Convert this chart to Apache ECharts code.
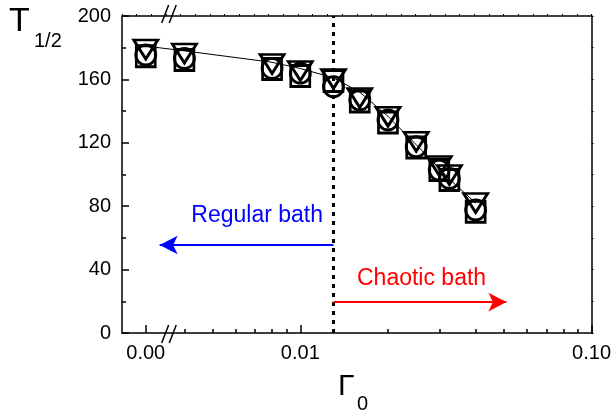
<!DOCTYPE html>
<html><head><meta charset="utf-8">
<script src="https://cdn.jsdelivr.net/npm/echarts@6/dist/echarts.min.js"></script>
<style>html,body{margin:0;padding:0;background:#fff}#c{width:614px;height:414px}</style>
</head><body><div id="c"></div>
<script>
// ---- data (Γ0 values; 0 is drawn on the left side of the axis break) ----
const gammaValues = [0, 0.004, 0.008, 0.010, 0.013, 0.016, 0.020, 0.025, 0.030, 0.0325, 0.040];
const circleT   = [175.4, 173.3, 167.0, 163.9, 155.4, 147.0, 134.4, 117.5, 102.8, 97.5, 77.6];
const squareT   = [174.6, 172.2, 166.6, 162.1, 159.0, 146.1, 132.8, 117.0, 102.8, 96.5, 76.5];
const triangleT = [178.9, 176.3, 169.7, 165.3, 160.3, 148.3, 136.5, 120.7, 105.4, 99.7, 82.0];
const fitT      = [181.0, 178.0, 170.8, 166.9, 161.0, 152.0, 136.7, 118.8, 103.9, 97.1, 82.0];

const xTickGamma  = [0, 0.01, 0.1];
const xTickLabels = ['0.00', '0.01', '0.10'];
const xMinorGamma = [0.004,0.005,0.006,0.007,0.008,0.009,0.02,0.03,0.04,0.05,0.06,0.07,0.08,0.09];
const yMin = 0, yMax = 200, yStep = 40;

const boundaryGamma = 0.013;          // regular / chaotic boundary
const regularArrowT = 55.5;           // height of the blue arrow
const chaoticArrowT = 19.5;           // height of the red arrow
const chaoticArrowEndGamma = 0.051;

// ---- axis mapping: log10 of Γ0, with 0 placed left of the break ----
const X_MIN = -2.6122, X_MAX = -1;
const ZERO_POS = -2.5306;
const BREAK_POS = -2.451;
const REGULAR_ARROW_END = -2.483;
function xPos(g){ return g === 0 ? ZERO_POS : Math.log10(g); }

const FONT = "'Liberation Sans', Arial, Helvetica, sans-serif";
const chart = echarts.init(document.getElementById('c'), null, {renderer:'canvas'});

const tickLine = {color:'#000', width:1.5};
function pts(arr){ return gammaValues.map((g,i)=>[xPos(g), arr[i]]); }
const markerStyle = {color:'transparent', borderColor:'#000', borderWidth:2.8, opacity:1};

const option = {
  animation:false,
  grid:{left:122, right:18, top:16, bottom:81, containLabel:false},
  xAxis:[
    {type:'value', min:X_MIN, max:X_MAX, position:'bottom',
     axisLine:{show:true, onZero:false, lineStyle:{color:'#000', width:1.5}},
     axisTick:{show:true, inside:true, length:8, lineStyle:tickLine, customValues: xTickGamma.map(xPos)},
     axisLabel:{show:true, margin:10, color:'#000', fontSize:20, fontFamily:FONT,
       customValues: xTickGamma.map(xPos),
       formatter:function(v){ for(let i=0;i<xTickGamma.length;i++){ if(Math.abs(xPos(xTickGamma[i])-v)<1e-6) return xTickLabels[i]; } return ''; }},
     splitLine:{show:false}},
    {type:'value', min:X_MIN, max:X_MAX, position:'bottom',
     axisLine:{show:false},
     axisTick:{show:true, inside:true, length:4, lineStyle:tickLine, customValues: xMinorGamma.map(xPos)},
     axisLabel:{show:false}, splitLine:{show:false}},
    {type:'value', min:0, max:32, interval:1, position:'top',
     axisLine:{show:true, onZero:false, lineStyle:{color:'#000', width:1.5}},
     axisTick:{show:true, inside:false, length:2, lineStyle:{color:'#000', width:1}},
     axisLabel:{show:false}, splitLine:{show:false}}
  ],
  yAxis:[
    {type:'value', min:yMin, max:yMax, interval:yStep, position:'left',
     axisLine:{show:true, onZero:false, lineStyle:{color:'#000', width:1.5}},
     axisTick:{show:true, inside:true, length:7, lineStyle:tickLine},
     minorTick:{show:true, splitNumber:2, length:4, lineStyle:tickLine},
     axisLabel:{show:true, margin:11, color:'#000', fontSize:20, fontFamily:FONT},
     splitLine:{show:false}},
    {type:'value', min:yMin, max:yMax, interval:yStep/2, position:'right',
     axisLine:{show:true, onZero:false, lineStyle:{color:'#000', width:1.5}},
     axisTick:{show:true, inside:false, length:2, lineStyle:{color:'#000', width:1}},
     axisLabel:{show:false}, splitLine:{show:false}}
  ],
  series:[
    {name:'fit', type:'line', data:pts(fitT), symbol:'none', silent:true, z:1,
     lineStyle:{color:'#000', width:1},
     markLine:{silent:true, symbol:['none','none'], label:{show:false},
       lineStyle:{color:'#000', width:3, type:[4,5]},
       data:[[{coord:[xPos(boundaryGamma), yMin]}, {coord:[xPos(boundaryGamma), yMax]}]]}},
    {name:'circle', type:'scatter', data:pts(circleT), symbol:'circle', symbolSize:20, z:3,
     itemStyle:markerStyle,
     markLine:{silent:true, symbol:['none','arrow'], symbolSize:[14,18], label:{show:false},
       lineStyle:{color:'#0000ff', width:2, type:'solid'},
       data:[[{coord:[xPos(boundaryGamma), regularArrowT]}, {coord:[REGULAR_ARROW_END, regularArrowT]}]]}},
    {name:'square', type:'scatter', data:pts(squareT), symbol:'rect', symbolSize:[19,21], z:3,
     itemStyle:markerStyle,
     markLine:{silent:true, symbol:['none','arrow'], symbolSize:[14,18], label:{show:false},
       lineStyle:{color:'#ff0000', width:2, type:'solid'},
       data:[[{coord:[xPos(boundaryGamma), chaoticArrowT]}, {coord:[xPos(chaoticArrowEndGamma), chaoticArrowT]}]]}},
    {name:'triangle', type:'scatter', data:pts(triangleT), symbol:'triangle', symbolRotate:180, symbolSize:[24,19], z:3,
     itemStyle:markerStyle}
  ]
};
chart.setOption(option);

// annotations & axis break marks
const bb = chart.convertToPixel({xAxisIndex:0}, BREAK_POS);
const yBottom = chart.convertToPixel({yAxisIndex:0}, yMin);
const yTop = chart.convertToPixel({yAxisIndex:0}, yMax);
function slashPair(cx, cy){
  const out = [];
  [-3.8, 3.8].forEach(d=>{
    out.push({type:'line', shape:{x1:cx+d-3.5, y1:cy+9, x2:cx+d+3.5, y2:cy-9}, style:{stroke:'#000', lineWidth:1.5}, z:10});
  });
  return out;
}
chart.setOption({graphic:[
  ...slashPair(bb, yBottom+1),
  ...slashPair(bb, yTop-2),
  {type:'text', left:9, top:5, style:{text:'T', font:'34px '+FONT, fill:'#000'}},
  {type:'text', left:34, top:31, style:{text:'1/2', font:'20px '+FONT, fill:'#000'}},
  {type:'text', left:338, top:372, style:{text:'Γ', font:'30px '+FONT, fill:'#000'}},
  {type:'text', left:357, top:394, style:{text:'0', font:'20px '+FONT, fill:'#000'}},
  {type:'text', right:614-323, top:204, style:{text:'Regular bath', font:'23px '+FONT, fill:'#0000ff', align:'right'}},
  {type:'text', left:357, top:267, style:{text:'Chaotic bath', font:'23px '+FONT, fill:'#ff0000'}}
]});
</script>
</body></html>
